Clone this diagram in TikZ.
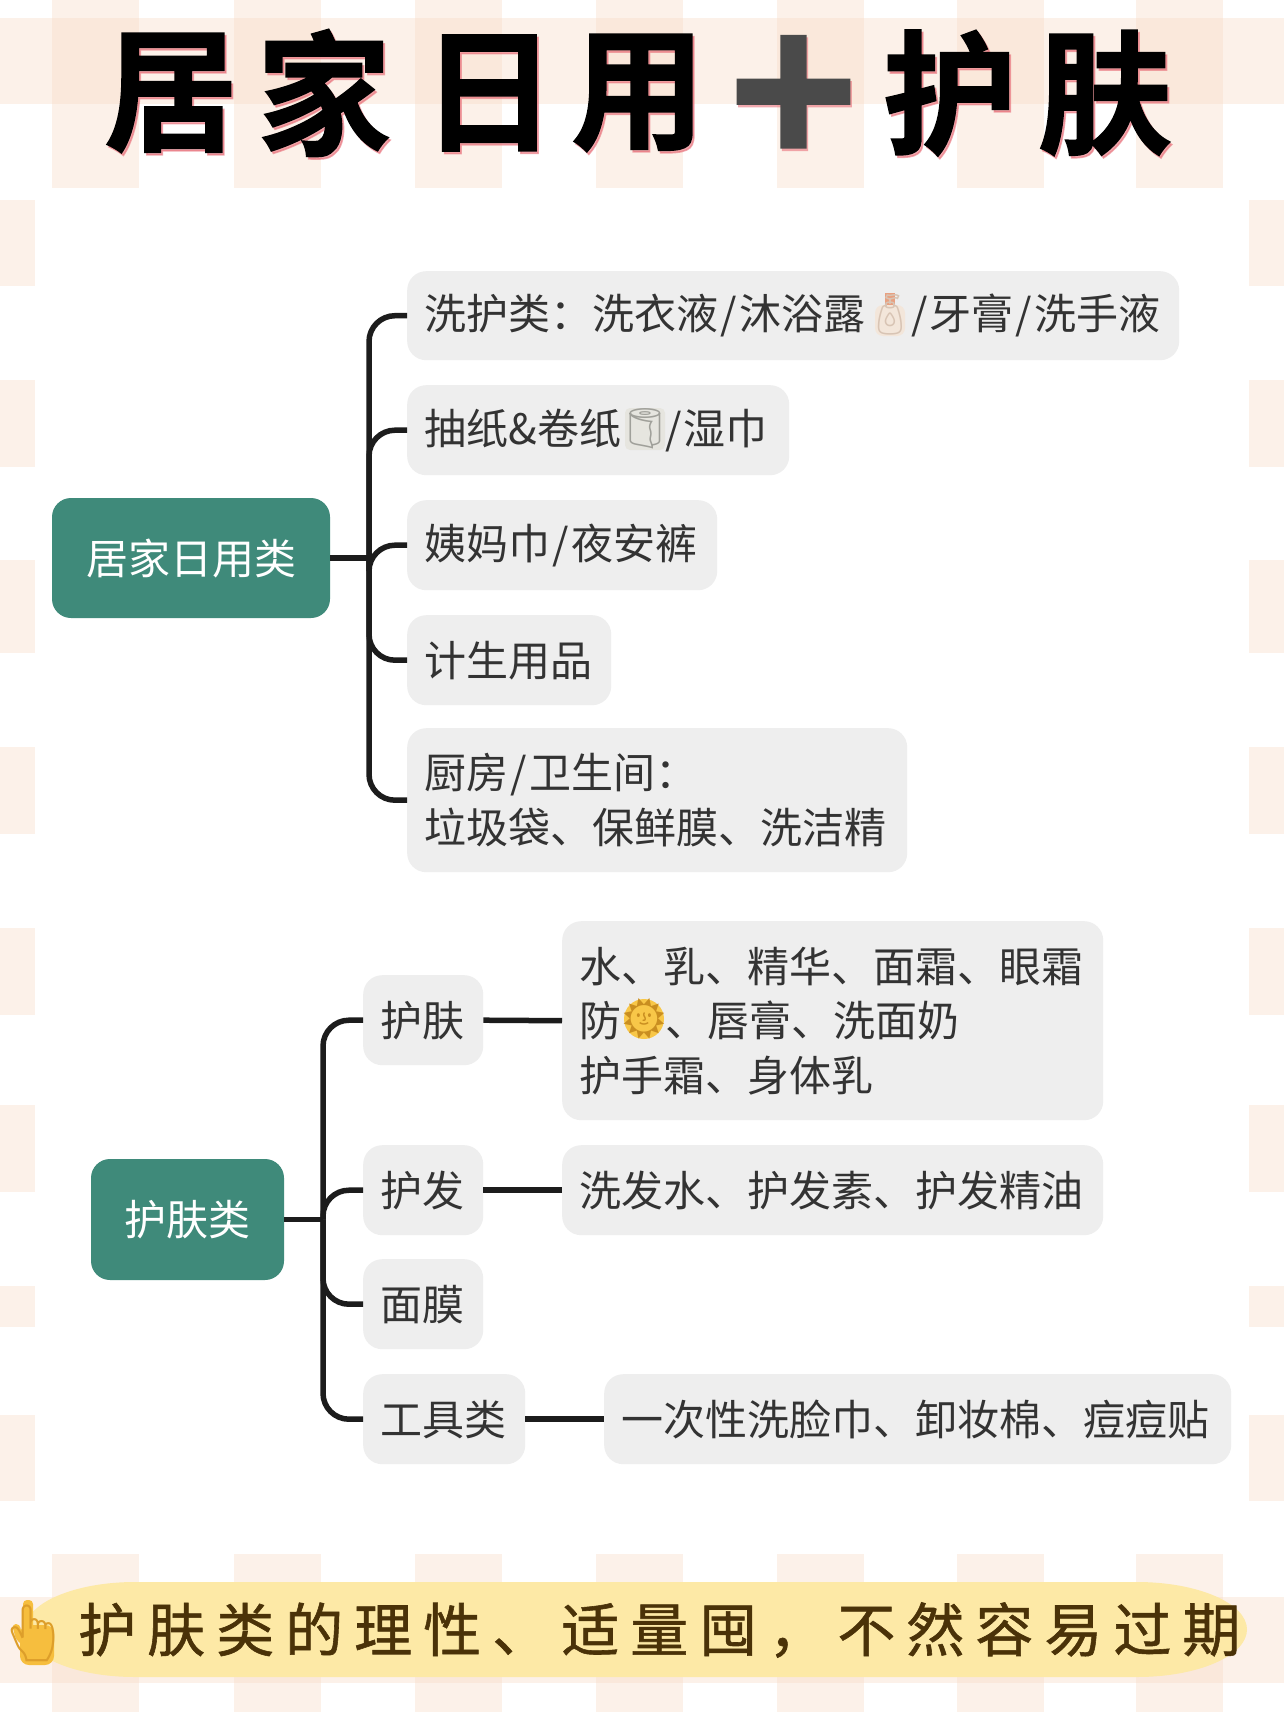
\documentclass[tikz,border=0pt]{standalone}
\usepackage{fontspec}
\setmainfont{Noto Sans CJK SC}
\newfontfamily\titlefont[FakeBold=1.2]{Noto Sans CJK SC Bold}
\newfontfamily\plusfont[FakeBold=8]{Noto Sans CJK SC Bold}
\newfontfamily\notefont[LetterSpace=19,FakeBold=1]{Noto Sans CJK SC}
\newfontfamily\emojifont{Noto Emoji}
\newcommand{\sls}{\kern2pt/\kern2pt}
\definecolor{teal}{HTML}{3F8A7A}
\definecolor{boxgray}{HTML}{EEEEEE}
\definecolor{bodyink}{HTML}{333333}
\definecolor{connink}{HTML}{1C1C1C}
\definecolor{stripe}{HTML}{F9DCC8}
\definecolor{pillfill}{HTML}{FDE9A6}
\definecolor{noteink}{HTML}{4A3208}
\definecolor{shadowpink}{HTML}{E8707A}
\definecolor{plusink}{HTML}{4A4A4A}
\definecolor{bottlefill}{HTML}{F3E6DA}
\definecolor{bottleink}{HTML}{D8C4B4}
\definecolor{pump}{HTML}{E8A080}
\definecolor{rollfill}{HTML}{E6E5DF}
\definecolor{rollink}{HTML}{A0A09A}
\definecolor{sunfill}{HTML}{F8C748}
\definecolor{sunink}{HTML}{C98E20}
\definecolor{handfill}{HTML}{F6BE3E}
\definecolor{handink}{HTML}{DD9E2A}
\tikzset{
  x=1pt,y=-1pt,
  topic/.style={draw=none,fill=boxgray,rounded corners=19pt,anchor=north west,inner xsep=17.5pt,inner ysep=0pt,
    align=left,text=bodyink,font=\fontsize{42}{54.5}\selectfont},
  rootbox/.style={draw=none,fill=teal,rounded corners=19pt,anchor=center,inner sep=0pt,text=white,
    font=\fontsize{42}{46}\selectfont},
  conn/.style={draw=connink,line width=5.5pt},
  curved/.style={conn,rounded corners=26pt},
  titlechar/.style={font=\titlefont\fontsize{134}{134}\selectfont,text=black,inner sep=0pt,anchor=center},
  titleshade/.style={titlechar,text=shadowpink,opacity=.6},
  pluschar/.style={font=\plusfont\fontsize{144}{144}\selectfont,inner sep=0pt,anchor=center},
  emoji/.style={font=\emojifont\fontsize{40}{40}\selectfont,inner sep=0pt,anchor=center},
  band/.style={fill=stripe,opacity=.4},
}
\newcommand{\tchar}[4]{%
  \node[titleshade] at (#1+2,#2+2.5) {#4};
  \node[titlechar] (#3) at (#1,#2) {#4};}
\begin{document}
\begin{tikzpicture}
\useasboundingbox (0,0) rectangle (1284,1712);
\fill[white] (0,0) rectangle (1284,1712);
% top check
\foreach \a in {52,234,415,596,777,957,1136}{
  \fill[band] (\a,0) rectangle (\a+87,188);
  \fill[band] (\a,1554) rectangle (\a+87,1712);
}
\fill[band] (0,18) rectangle (1284,104);
\fill[band] (0,1597) rectangle (1284,1683);
% side checks
\foreach \u/\v in {200/286,380/467,560/653,747/834,928/1015,1105/1192,1286/1327,1415/1501}{
  \fill[band] (0,\u) rectangle (35,\v);
  \fill[band] (1249,\u) rectangle (1284,\v);
}
% title
\tchar{171}{93}{tA}{居}
\tchar{324}{93}{tB}{家}
\tchar{489}{93}{tC}{日}
\tchar{638}{93}{tD}{用}
\node[pluschar,text=shadowpink,opacity=.6] at (795,96) {＋};
\node[pluschar,text=plusink] (tE) at (793.5,93.5) {＋};
\tchar{950}{93}{tF}{护}
\tchar{1105}{93}{tG}{肤}
% first map
\node[rootbox,minimum width=278pt,minimum height=120pt] (r1) at (191,558) {居家日用类};
\node[topic,minimum width=772pt,minimum height=89pt,text width=737pt] (b1) at (407,271) {\mbox{洗护类：洗衣液\sls 沐浴露\hspace{44pt}\sls 牙膏\sls 洗手液}};
\node[topic,minimum width=382pt,minimum height=90pt,text width=347pt] (b2) at (407,385) {\mbox{抽纸\&卷纸\hspace{42pt}\sls 湿巾}};
\node[topic,minimum width=310pt,minimum height=90pt,text width=275pt] (b3) at (407,500) {姨妈巾\sls 夜安裤};
\node[topic,minimum width=204pt,minimum height=90pt,text width=169pt] (b4) at (407,615) {计生用品};
\node[topic,minimum width=500pt,minimum height=144pt,text width=465pt] (b5) at (407,728) {厨房\sls 卫生间：\\垃圾袋、保鲜膜、洗洁精};
\coordinate (s1) at (369,558);
\draw[conn] (r1.east) -- (s1);
\foreach \k in {b1,b2,b3,b4,b5}{\draw[curved] (s1) |- (\k.west);}
% second map
\node[rootbox,minimum width=193pt,minimum height=121pt] (r2) at (187.5,1219.5) {护肤类};
\node[topic,minimum width=120pt,minimum height=90pt,text width=85pt] (c1) at (363,975) {护肤};
\node[topic,minimum width=120pt,minimum height=90pt,text width=85pt] (c2) at (363,1145) {护发};
\node[topic,minimum width=120pt,minimum height=90pt,text width=85pt] (c3) at (363,1259) {面膜};
\node[topic,minimum width=162pt,minimum height=90pt,text width=127pt] (c4) at (363,1374) {工具类};
\node[topic,minimum width=541pt,minimum height=199pt,text width=506pt] (d1) at (562,921) {水、乳、精华、面霜、眼霜\\防\hspace{44pt}、唇膏、洗面奶\\护手霜、身体乳};
\node[topic,minimum width=541pt,minimum height=90pt,text width=506pt] (d2) at (562,1145) {洗发水、护发素、护发精油};
\node[topic,minimum width=627pt,minimum height=90pt,text width=592pt] (d4) at (604,1374) {一次性洗脸巾、卸妆棉、痘痘贴};
\coordinate (s2) at (323,1219.5);
\draw[conn] (r2.east) -- (s2);
\foreach \k in {c1,c2,c3,c4}{\draw[curved] (s2) |- (\k.west);}
\draw[conn] (c1.east) -- (d1.west);
\draw[conn] (c2.east) -- (d2.west);
\draw[conn] (c4.east) -- (d4.west);
% bottle
\fill[bottlefill,rounded corners=8pt] (875,305) rectangle (905,336);
\fill[pump] (885,293) rectangle (895,305);
\node[emoji,text=bottleink] (em1) at (890,315) {🧴};
% paper roll
\fill[rollfill,rounded corners=5pt] (625,408) rectangle (665,450);
\node[emoji,text=rollink] (em2) at (645,429) {🧻};
% sun
\fill[sunfill] (644,1019) circle[radius=20pt];
\node[emoji,text=sunink] (em3) at (644,1019) {🌞};
% note
\fill[pillfill] (135,1582) -- (1137,1582) arc[start angle=90,end angle=-90,x radius=110pt,y radius=47.5pt]
  -- (135,1677) arc[start angle=270,end angle=90,x radius=110pt,y radius=47.5pt] -- cycle;
\node[inner sep=0pt,anchor=west,text=noteink,font=\notefont\fontsize{58}{58}\selectfont] (note) at (78,1630) {护肤类的理性、适量囤，不然容易过期};
% hand
\fill[handfill,rounded corners=4pt] (23,1600) rectangle (33,1640);
\fill[handfill,rounded corners=9pt] (20,1625) rectangle (54,1665);
\fill[handfill,rounded corners=4pt] (12,1624) -- (20,1624) -- (23,1645) -- (16,1640) -- cycle;
\node[emoji,text=handink,font=\emojifont\fontsize{56}{56}\selectfont] (em4) at (33,1633) {👆};
\end{tikzpicture}
\end{document}
